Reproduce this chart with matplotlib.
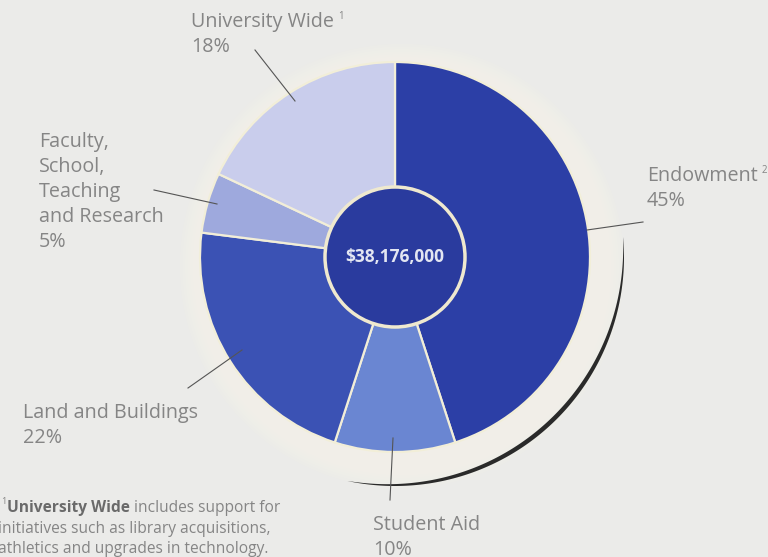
"""
Donut-style pie of gift allocation, redrawn from a printed report page.
Saves out.png (768x557).
"""

import numpy as np
import matplotlib
import matplotlib.pyplot as plt
from matplotlib.patches import Circle, Polygon

matplotlib.use("Agg")

W, H = 768, 557

categories = ["Endowment", "Student Aid", "Land and Buildings",
              "Faculty, School, Teaching and Research", "University Wide"]
shares = [45, 10, 22, 5, 18]
total_label = "\\$38,176,000"
colors = ["#2c3fa6", "#6a86d2", "#3b52b4", "#9ea9dd", "#c9cdec"]

FONT = ["Open Sans", "DejaVu Sans"]
GREY = "#858585"


def py(y):
    # picture rows run downward, axes run upward
    return H - y


fig = plt.figure(figsize=(W / 100, H / 100), dpi=100)
fig.patch.set_facecolor("#ebebe9")
ax = fig.add_axes([0, 0, 1, 1])
ax.set_xlim(0, W)
ax.set_ylim(0, H)
ax.set_aspect("equal")
ax.axis("off")

cx, cy, r = 395, py(257), 195

# soft cream glow behind the pie, brighter toward the lower right
for k in range(10):
    ax.add_patch(Circle((cx + 7, cy - 9), 222 - k * 2.5, facecolor="#f7f4e8",
                        edgecolor="none", alpha=0.16, zorder=1))
for k in range(5):
    ax.add_patch(Circle((cx, cy), 212 - k * 3, facecolor="#f4f2e8",
                        edgecolor="none", alpha=0.12, zorder=1))

# thin dark shadow arc on the lower right
t = np.radians(np.linspace(-102, 5, 200))
thick = 4.5 * np.sin(np.linspace(0, np.pi, t.size)) ** 0.8
outer = np.column_stack([cx + 229 * np.cos(t), cy + 229 * np.sin(t)])
inner = np.column_stack([cx + (229 - thick) * np.cos(t), cy + (229 - thick) * np.sin(t)])
ax.add_patch(Polygon(np.vstack([outer, inner[::-1]]), closed=True,
                     facecolor="#2a2a2a", edgecolor="none", zorder=2))

ax.pie(shares, colors=colors, startangle=90, counterclock=False,
       center=(cx, cy), radius=r,
       wedgeprops=dict(edgecolor="#f2eed8", linewidth=1.6, zorder=3))
ax.set_xlim(0, W)
ax.set_ylim(0, H)

ax.add_patch(Circle((cx, cy), 70, facecolor="#2a3b9e", edgecolor="#efe9cf", linewidth=2.5, zorder=5))
ax.text(cx, cy, total_label, ha="center", va="center", color="#e3e6f2",
        fontsize=12.5, fontweight="bold", family=FONT, zorder=6)

# labels: list of (lines, x, first baseline, footnote mark)
labels = [
    (["University Wide", "18%"], 191, 27, "1"),
    (["Faculty,", "School,", "Teaching", "and Research", "5%"], 39, 147, ""),
    (["Endowment", "45%"], 647, 181, "2"),
    (["Land and Buildings", "22%"], 23, 418, ""),
    (["Student Aid", "10%"], 373, 530, ""),
]
fig.canvas.draw()
renderer = fig.canvas.get_renderer()
for lines, x, y0, mark in labels:
    for i, s in enumerate(lines):
        t_ = ax.text(x, py(y0 + i * 25), s, ha="left", va="baseline", color=GREY,
                     fontsize=14.2, family=FONT, zorder=7)
        if i == 0 and mark:
            bb = t_.get_window_extent(renderer)
            ax.text(bb.x1 + 4, py(y0 - 8), mark, ha="left", va="baseline", color=GREY,
                    fontsize=7, family=FONT, zorder=7)

leaders = [
    ((255, 50), (295, 101)),
    ((154, 190), (217, 204)),
    ((587, 230), (643, 222)),
    ((188, 388), (242, 350)),
    ((393, 438), (390, 500)),
]
for (x0, y0), (x1, y1) in leaders:
    ax.plot([x0, x1], [py(y0), py(y1)], color="#555555", linewidth=0.8, zorder=7)

# footnote
fs = 11.2
ax.text(1, py(504), "1", fontsize=6.5, color=GREY, family=FONT, va="baseline")
bold = ax.text(7, py(512), "University Wide", fontsize=fs, fontweight="bold",
               color="#6a6a6a", family=FONT, va="baseline")
bb = bold.get_window_extent(renderer)
ax.text(bb.x1 + 4, py(512), "includes support for", fontsize=fs, color=GREY,
        family=FONT, va="baseline")
ax.text(-2, py(533), "initiatives such as library acquisitions,", fontsize=fs,
        color=GREY, family=FONT, va="baseline")
ax.text(-2, py(553), "athletics and upgrades in technology.", fontsize=fs,
        color=GREY, family=FONT, va="baseline")

fig.savefig("out.png", dpi=100, facecolor=fig.get_facecolor())
plt.close()
